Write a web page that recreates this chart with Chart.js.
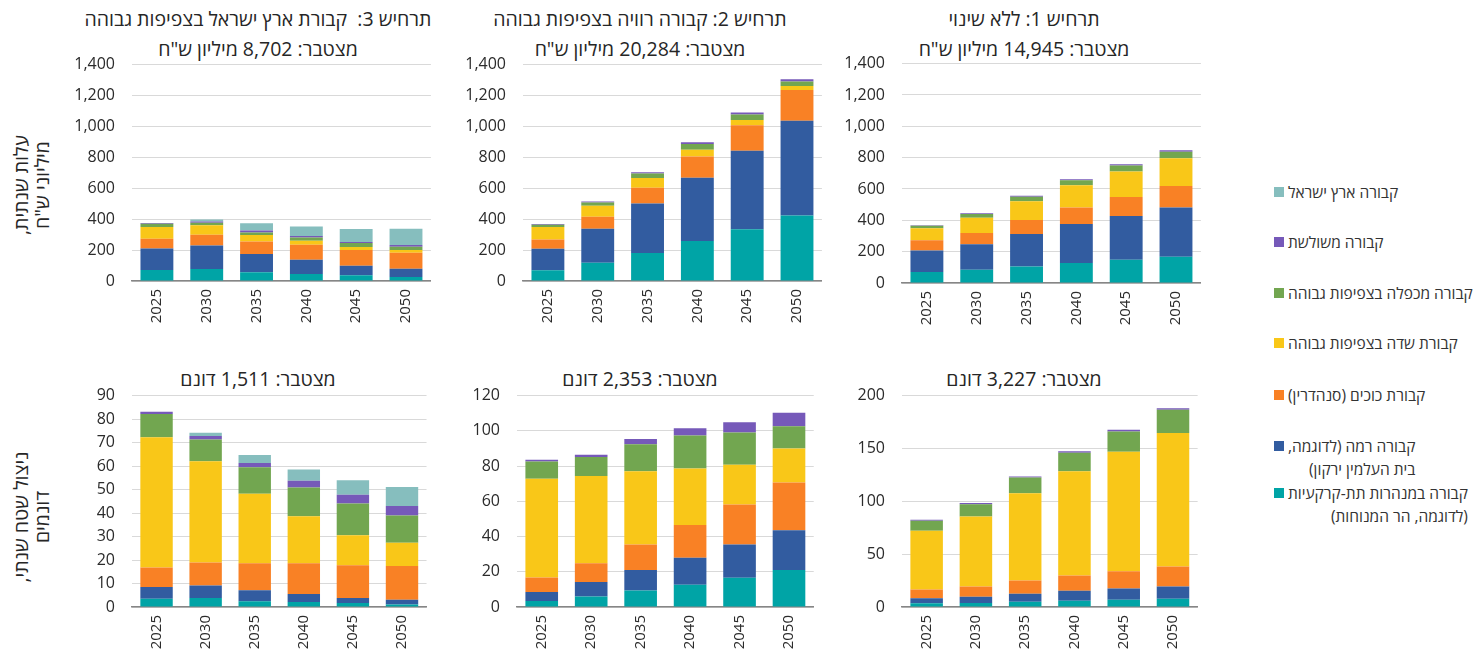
<!DOCTYPE html>
<html lang="he">
<head>
<meta charset="utf-8">
<title>קבורה בצפיפות גבוהה - תרחישים</title>
<script src="https://cdn.jsdelivr.net/npm/chart.js@4.4.1/dist/chart.umd.min.js"></script>
<style>
  body {
    margin: 0;
    width: 1475px;
    height: 656px;
    overflow: hidden;
    background: #fff;
    position: relative;
    font-family: 'Open Sans', 'Noto Sans', 'DejaVu Sans', sans-serif;
    color: #262626;
  }
  canvas, .title, .rowLabel, .legendItem { position: absolute; }
  .title {
    transform: translateX(-50%);
    font-size: 19.5px;
    line-height: 24px;
    white-space: pre;
    direction: rtl;
  }
  .rowLabel {
    font-size: 19.5px;
    line-height: 21px;
    text-align: center;
    direction: rtl;
    white-space: nowrap;
    transform: translate(-50%, -50%) rotate(-90deg);
  }
  .legendItem {
    display: flex;
    align-items: flex-start;
    font-size: 15.5px;
    line-height: 23px;
    color: #333;
  }
  .legendItem .box { width: 10px; height: 10px; margin: 6px 4px 0 0; }
  .legendItem .txt { direction: rtl; text-align: right; white-space: nowrap; }
</style>
</head>
<body>
<script>
// shared categories and series
const years = ['2025', '2030', '2035', '2040', '2045', '2050'];
const seriesNames = [
    'קבורה במנהרות תת-קרקעיות (לדוגמה, הר המנוחות)',
    'קבורה רמה (לדוגמה, בית העלמין ירקון)',
    'קבורת כוכים (סנהדרין)',
    'קבורת שדה בצפיפות גבוהה',
    'קבורה מכפלה בצפיפות גבוהה',
    'קבורה משולשת',
    'קבורה ארץ ישראל'
];
const seriesColors = ['#00A4A6', '#325CA0', '#F98125', '#F9C718', '#72A650', '#7659B9', '#86BEBE'];

// annual cost, million NIS (rows follow seriesNames, bottom to top)
const costNoChange = [
    [70, 85, 106, 128, 149, 168],
    [138, 162, 207, 249, 279, 313],
    [64, 72, 89, 104, 121, 138],
    [77, 98, 119, 142, 162, 177],
    [17, 23, 30, 32, 38, 42],
    [3, 5, 6, 7, 8, 9],
    [0, 0, 0, 0, 0, 0]
];
const costRama = [
    [69, 118, 181, 258, 334, 424],
    [140, 220, 321, 410, 508, 612],
    [60, 78, 101, 138, 166, 200],
    [80, 71, 63, 43, 34, 26],
    [15, 21, 30, 38, 35, 28],
    [4, 7, 8, 11, 13, 15],
    [0, 0, 0, 0, 0, 0]
];
const costEretz = [
    [71, 78, 56, 45, 37, 26],
    [140, 152, 118, 93, 62, 54],
    [63, 69, 82, 97, 101, 103],
    [75, 61, 41, 26, 20, 17],
    [21, 17, 17, 21, 26, 22],
    [5, 8, 13, 9, 6, 11],
    [0, 13, 46, 62, 84, 105]
];

// annual land use, dunams
const areaNoChange = [
    [3.5, 3.8, 5.0, 6.0, 6.9, 7.8],
    [4.7, 5.9, 7.6, 9.4, 10.7, 11.7],
    [8.4, 9.8, 12.5, 14.4, 16.3, 18.8],
    [55.6, 66.2, 82.6, 98.6, 113, 126.2],
    [9.4, 11.6, 14.7, 17.6, 19.2, 22],
    [1.0, 1.0, 1.0, 1.3, 1.6, 1.6],
    [0, 0, 0, 0, 0, 0]
];
const areaRama = [
    [3.4, 6.0, 9.3, 12.7, 16.6, 21],
    [5.1, 8.2, 11.7, 15.3, 18.9, 22.5],
    [8.3, 10.6, 14.5, 18.5, 22.7, 27.2],
    [56, 49.5, 41.6, 32.1, 22.5, 19.3],
    [9.8, 10.8, 15.3, 18.8, 18.4, 12.6],
    [1.0, 1.3, 2.9, 4.1, 5.8, 7.6],
    [0, 0, 0, 0, 0, 0]
];
const areaEretz = [
    [3.5, 3.8, 2.5, 2.1, 1.7, 1.1],
    [5.0, 5.4, 4.6, 3.4, 2.1, 2.0],
    [8.3, 9.7, 11.5, 13.1, 14.0, 14.4],
    [55.5, 43.1, 29.6, 20.0, 12.7, 9.9],
    [9.9, 9.3, 11.3, 12.3, 13.6, 11.6],
    [0.9, 1.5, 1.8, 2.8, 3.7, 4.0],
    [0, 1.4, 3.4, 4.8, 6.2, 8.1]
];

// canvas placement; top sits ~26px above the top gridline
const panels = [
    { rows: costNoChange, max: 1400, step: 200, left: 840, top: 37,  width: 362, zeroY: 283, axisW: 62, xH: 55 },
    { rows: costRama,     max: 1400, step: 200, left: 460, top: 38,  width: 363, zeroY: 281, axisW: 63, xH: 55 },
    { rows: costEretz,    max: 1400, step: 200, left: 70,  top: 38,  width: 362, zeroY: 281, axisW: 62, xH: 55 },
    { rows: areaNoChange, max: 200,  step: 50,  left: 840, top: 369, width: 359, zeroY: 607, axisW: 62, xH: 49 },
    { rows: areaRama,     max: 120,  step: 20,  left: 460, top: 369, width: 355, zeroY: 607, axisW: 57, xH: 49 },
    { rows: areaEretz,    max: 90,   step: 10,  left: 70,  top: 369, width: 358, zeroY: 607, axisW: 62, xH: 49 }
];

const titles = [
    { text: 'תרחיש 1: ללא שינוי', x: 1024, y: 7 },
    { text: 'מצטבר: 14,945 מיליון ש"ח', x: 1024, y: 37 },
    { text: 'תרחיש 2: קבורה רוויה בצפיפות גבוהה', x: 640, y: 7 },
    { text: 'מצטבר: 20,284 מיליון ש"ח', x: 640, y: 37 },
    { text: 'תרחיש 3:  קבורת ארץ ישראל בצפיפות גבוהה', x: 258, y: 7 },
    { text: 'מצטבר: 8,702 מיליון ש"ח', x: 258, y: 37 },
    { text: 'מצטבר: 3,227 דונם', x: 1024, y: 367 },
    { text: 'מצטבר: 2,353 דונם', x: 640, y: 367 },
    { text: 'מצטבר: 1,511 דונם', x: 258, y: 367 }
];

Chart.defaults.font.family = "'Open Sans', 'Noto Sans', 'DejaVu Sans', sans-serif";
Chart.defaults.font.size = 15;
Chart.defaults.color = '#2b2b2b';

titles.forEach(function(t) {
    const div = document.createElement('div');
    div.className = 'title';
    div.textContent = t.text;
    div.style.left = t.x + 'px';
    div.style.top = t.y + 'px';
    document.body.appendChild(div);
});

[['עלות שנתית,<br>מיליוני ש"ח', 185], ['ניצול שטח שנתי,<br>דונמים', 517]].forEach(function(r) {
    const div = document.createElement('div');
    div.className = 'rowLabel';
    div.innerHTML = r[0];
    div.style.left = '31px';
    div.style.top = r[1] + 'px';
    document.body.appendChild(div);
});

// legend, top series first
const legendTexts = [
    'קבורה ארץ ישראל',
    'קבורה משולשת',
    'קבורה מכפלה בצפיפות גבוהה',
    'קבורת שדה בצפיפות גבוהה',
    'קבורת כוכים (סנהדרין)',
    'קבורה רמה (לדוגמה,<br>בית העלמין ירקון)',
    'קבורה במנהרות תת-קרקעיות<br>(לדוגמה, הר המנוחות)'
];
const legendY = [181, 231, 282, 332, 384, 435, 482];
legendTexts.forEach(function(txt, i) {
    const item = document.createElement('div');
    item.className = 'legendItem';
    item.style.left = '1274px';
    item.style.top = legendY[i] + 'px';
    const box = document.createElement('div');
    box.className = 'box';
    box.style.background = seriesColors[6 - i];
    const label = document.createElement('div');
    label.className = 'txt';
    label.innerHTML = txt;
    item.appendChild(box);
    item.appendChild(label);
    document.body.appendChild(item);
});

panels.forEach(function(p) {
    const canvas = document.createElement('canvas');
    canvas.width = p.width;
    canvas.height = p.zeroY - p.top + p.xH;
    canvas.style.left = p.left + 'px';
    canvas.style.top = p.top + 'px';
    document.body.appendChild(canvas);

    new Chart(canvas.getContext('2d'), {
        type: 'bar',
        data: {
            labels: years,
            datasets: p.rows.map(function(vals, i) {
                return {
                    label: seriesNames[i],
                    data: vals,
                    backgroundColor: seriesColors[i],
                    borderWidth: 0,
                    barPercentage: 0.66,
                    categoryPercentage: 1
                };
            })
        },
        options: {
            responsive: false,
            animation: false,
            layout: { padding: { top: 12, right: 0, left: 0, bottom: 0 } },
            plugins: { legend: { display: false }, tooltip: { enabled: false } },
            scales: {
                x: {
                    stacked: true,
                    grid: { display: false, drawTicks: false },
                    border: { display: true, color: '#868686', width: 1.5 },
                    ticks: { minRotation: 90, maxRotation: 90, autoSkip: false, padding: 8 },
                    afterFit: function(scale) { scale.height = p.xH; }
                },
                y: {
                    stacked: true,
                    min: 0,
                    max: p.max,
                    grid: { color: '#d9d9d9', drawTicks: false },
                    border: { display: false },
                    ticks: {
                        stepSize: p.step,
                        padding: 17,
                        font: { size: 16 },
                        callback: function(v) { return v.toLocaleString('en-US'); }
                    },
                    afterFit: function(scale) { scale.width = p.axisW; }
                }
            }
        }
    });
});
</script>
</body>
</html>
